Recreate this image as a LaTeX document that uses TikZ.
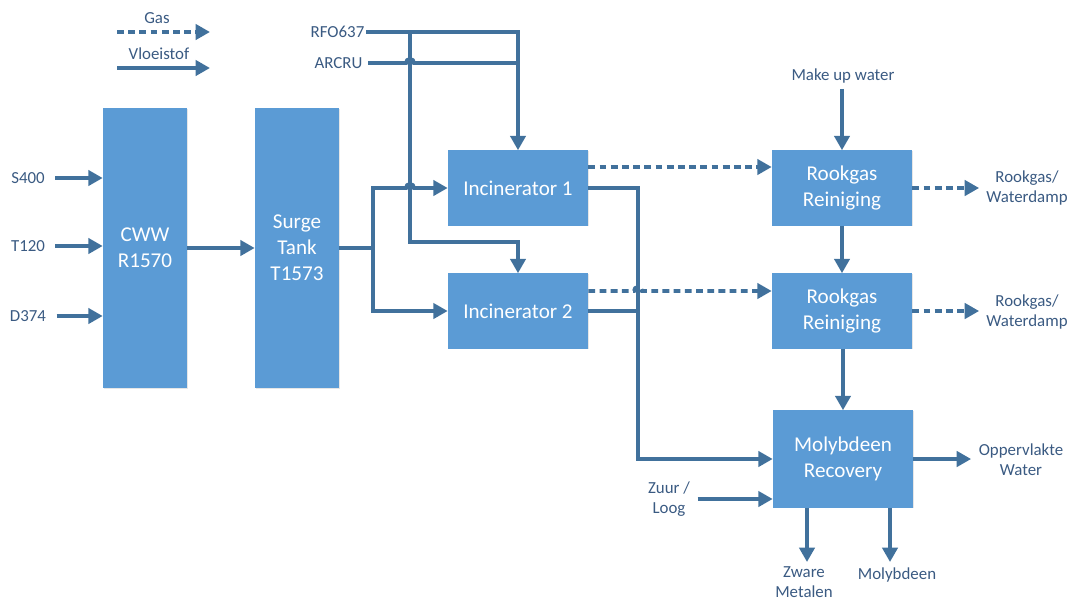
\documentclass[tikz,border=0pt]{standalone}
\usepackage{fontspec}
\setmainfont{Carlito}
\usetikzlibrary{positioning, arrows.meta, calc, shadows}
\definecolor{unitblue}{HTML}{5B9BD5}
\definecolor{pipeblue}{HTML}{41719C}
\definecolor{labelblue}{HTML}{3A5A82}

\begin{document}
\begin{tikzpicture}[
      x=0.025cm, y=-0.025cm,
      every node/.style={font=\fontsize{12}{14.2}\selectfont, text=labelblue},
      unit/.style={fill=unitblue, text=white, align=center,
                   font=\fontsize{15}{18.5}\selectfont,
                   drop shadow={shadow xshift=0.6pt, shadow yshift=-0.6pt, opacity=0.2}},
      tall/.style={unit, minimum width=2.1cm, minimum height=7cm},
      wide/.style={unit, minimum width=3.5cm, minimum height=1.875cm},
      lbl/.style={align=center, inner sep=1pt},
      pipe/.style={draw=pipeblue, line width=2.8pt},
      flow/.style={pipe, -{Triangle[length=3.6mm, width=3.8mm]}},
      gas/.style={flow, dash pattern=on 1.7mm off 1.1mm},
    ]
    \useasboundingbox (0,0) rectangle (1072,601);

    % legend
    \node[lbl] (gaslbl) at (157,18) {Gas};
    \node[lbl] (liqlbl) at (159,54) {Vloeistof};
    \coordinate (gasA) at (117,32);  \coordinate (gasB) at (210,32);
    \coordinate (liqA) at (117,68);  \coordinate (liqB) at (210,68);
    \draw[gas]  (gasA) -- (gasB);
    \draw[flow] (liqA) -- (liqB);

    % units
    \node[tall] (cww)   at (145,248) {CWW\\R1570};
    \node[tall] (surge) at (297,248) {Surge\\Tank\\T1573};
    \node[wide] (inc1)  at (518,188) {Incinerator 1};
    \node[wide] (inc2)  at (518,311) {Incinerator 2};
    \node[wide] (rook1) at (842,188) {Rookgas\\Reiniging};
    \node[wide] (rook2) at (842,311) {Rookgas\\Reiniging};
    \node[unit, minimum width=3.5cm, minimum height=2.425cm]
      (moly) at (843,459) {Molybdeen\\Recovery};

    % feeds into CWW
    \node[lbl] (s400) at (28,178) {S400};
    \node[lbl] (t120) at (28,246) {T120};
    \node[lbl] (d374) at (28,316) {D374};
    \draw[flow] ([xshift=0.22cm]s400.east) -- (s400 -| cww.west);
    \draw[flow] ([xshift=0.22cm]t120.east) -- (t120 -| cww.west);
    \draw[flow] ([xshift=0.22cm]d374.east) -- (d374 -| cww.west);
    \draw[flow] (cww) -- (surge);

    % surge tank to incinerators
    \coordinate (split) at (373,248);
    \coordinate (tap)   at (410,32);
    \coordinate (bend)  at (410,242);
    \draw[pipe] (surge.east) -- (split);
    \draw[flow] (split) |- ($(inc1.west -| bend)+(-4,0)$) arc(180:0:0.1cm) -- (inc1.west);
    \draw[flow] (split) |- (inc2.west);

    % RFO637 / ARCRU
    \node[lbl, anchor=east] (rfo)   at (366,32) {RFO637};
    \node[lbl, anchor=east] (arcru) at (364,63) {ARCRU};
    \draw[flow] (rfo.east) -| (inc1.north);
    \draw[flow] (tap) -- (bend) -| (inc2.north);
    \draw[pipe] ([xshift=0.1cm]arcru.east) -- ($(arcru.east -| tap)+(-4,0)$)
      arc(180:0:0.1cm) -- (arcru.east -| inc1.north);

    % incinerator outputs
    \coordinate (drain) at (638,300);
    \draw[gas]  ($(inc1.east)+(0,-21)$) -- ($(rook1.west)+(0,-21)$);
    \draw[flow] (inc1.east) -| (drain |- moly.west) -- (moly.west);
    \draw[pipe] (inc2.east) -- (inc2.east -| drain);
    \draw[gas]  ($(inc2.east)+(0,-20)$) -- ($(inc2.east -| drain)+(-4,-20)$)
      arc(180:0:0.1cm) -- ($(rook2.west)+(0,-20)$);

    % flue gas cleaning
    \node[lbl] (water) at (843,76) {Make up water};
    \draw[flow] ([yshift=-0.1cm]water.south -| rook1.north) -- (rook1.north);
    \draw[flow] (rook1) -- (rook2);
    \draw[flow] (rook2.south -| moly.north) -- (moly.north);
    \node[lbl] (flue1) at (1027,188) {Rookgas/\\Waterdamp};
    \node[lbl] (flue2) at (1027,312) {Rookgas/\\Waterdamp};
    \draw[gas, shorten >=0.14cm] (rook1.east) -- (rook1.east -| flue1.west);
    \draw[gas, shorten >=0.14cm] (rook2.east) -- (rook2.east -| flue2.west);

    % molybdeen recovery
    \node[lbl] (surf)  at (1021,460) {Oppervlakte\\Water};
    \node[lbl] (acid)  at (669,499) {Zuur /\\Loog};
    \node[lbl] (heavy) at (804,582) {Zware\\Metalen};
    \node[lbl] (molyout) at (897,575) {Molybdeen};
    \coordinate (heavyTip) at (807,562);
    \coordinate (molyTip)  at (890,562);
    \draw[flow, shorten >=0.15cm] (moly.east) -- (moly.east -| surf.west);
    \draw[flow] ([xshift=0.15cm]acid.east) -- (acid.east -| moly.west);
    \draw[flow] (moly.south -| heavyTip) -- (heavyTip);
    \draw[flow] (moly.south -| molyTip) -- (molyTip);
\end{tikzpicture}
\end{document}
